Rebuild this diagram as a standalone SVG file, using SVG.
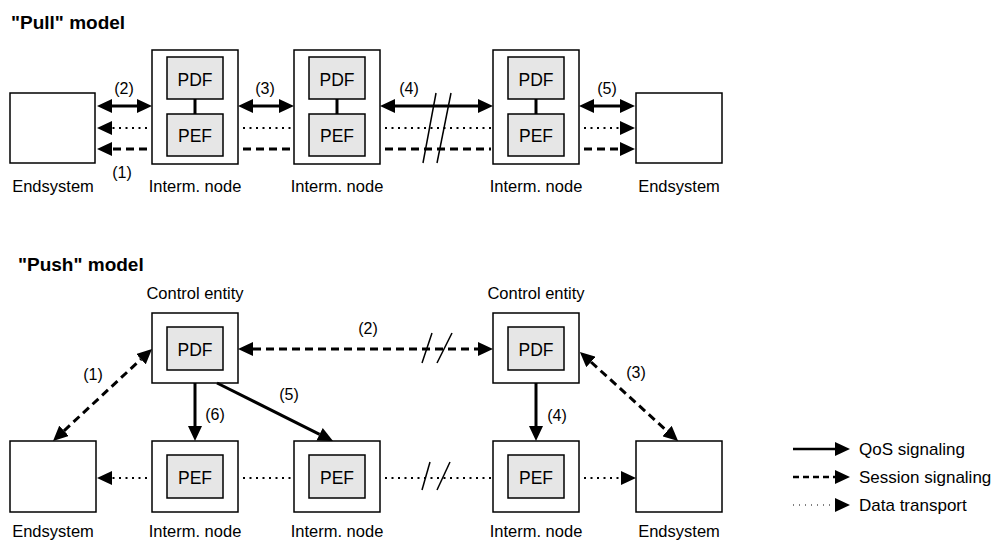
<svg xmlns="http://www.w3.org/2000/svg" width="997" height="543" viewBox="0 0 997 543">
  <style>
    text { font-family: "Liberation Sans", Arial, sans-serif; fill: #000; }
    .title { font-size: 19px; font-weight: bold; }
    .lbl { font-size: 16.5px; text-anchor: middle; }
    .num { font-size: 16px; text-anchor: middle; }
    .fn { font-size: 17.5px; text-anchor: middle; }
    .leg { font-size: 17px; }
    .box { fill: #fff; stroke: #000; stroke-width: 1.5; }
    .inner { fill: #e6e6e6; stroke: #000; stroke-width: 1.5; }
    .qos { fill: none; stroke: #000; stroke-width: 3; }
    .sess { fill: none; stroke: #000; stroke-width: 3; stroke-dasharray: 8 5; }
    .data { fill: none; stroke: #000; stroke-width: 2; stroke-dasharray: 2 4.5; }
    .brk { fill: none; stroke: #000; stroke-width: 1.5; }
    .link { stroke: #000; stroke-width: 3; }
  </style>
  <defs>
    <marker id="ah" markerUnits="userSpaceOnUse" viewBox="0 0 15 14" refX="0" refY="7" markerWidth="15" markerHeight="14" orient="auto-start-reverse">
      <path d="M0,0 L15,7 L0,14 z" fill="#000"/>
    </marker>
  </defs>

  <!-- ===== Pull model ===== -->
  <text class="title" x="11" y="29">"Pull" model</text>

  <g id="pull-end-left">
    <rect class="box" x="10" y="93" width="85" height="70"/>
    <text class="lbl" x="53" y="192">Endsystem</text>
  </g>
  <g id="pull-node-1">
    <rect class="box" x="152" y="50" width="86" height="114"/>
    <rect class="inner" x="167" y="57" width="56" height="42"/>
    <rect class="inner" x="167" y="114" width="56" height="42"/>
    <line class="link" x1="195" y1="99" x2="195" y2="114"/>
    <text class="fn" x="195" y="85.5">PDF</text>
    <text class="fn" x="195" y="142">PEF</text>
    <text class="lbl" x="195" y="192">Interm. node</text>
  </g>
  <g id="pull-node-2">
    <rect class="box" x="294" y="50" width="86" height="114"/>
    <rect class="inner" x="309" y="57" width="56" height="42"/>
    <rect class="inner" x="309" y="114" width="56" height="42"/>
    <line class="link" x1="337" y1="99" x2="337" y2="114"/>
    <text class="fn" x="337" y="85.5">PDF</text>
    <text class="fn" x="337" y="142">PEF</text>
    <text class="lbl" x="337" y="192">Interm. node</text>
  </g>
  <g id="pull-node-3">
    <rect class="box" x="493" y="50" width="86" height="114"/>
    <rect class="inner" x="508" y="57" width="56" height="42"/>
    <rect class="inner" x="508" y="114" width="56" height="42"/>
    <line class="link" x1="536" y1="99" x2="536" y2="114"/>
    <text class="fn" x="536" y="85.5">PDF</text>
    <text class="fn" x="536" y="142">PEF</text>
    <text class="lbl" x="536" y="192">Interm. node</text>
  </g>
  <g id="pull-end-right">
    <rect class="box" x="636" y="93" width="86" height="70"/>
    <text class="lbl" x="679" y="192">Endsystem</text>
  </g>

  <g id="pull-connectors">
    <!-- (2) -->
    <line class="qos" x1="112" y1="106" x2="137" y2="106" marker-start="url(#ah)" marker-end="url(#ah)"/>
    <line class="data" x1="147" y1="128" x2="112" y2="128" marker-end="url(#ah)"/>
    <line class="sess" x1="147" y1="149" x2="112" y2="149" marker-end="url(#ah)"/>
    <!-- (3) -->
    <line class="qos" x1="253" y1="106" x2="279" y2="106" marker-start="url(#ah)" marker-end="url(#ah)"/>
    <line class="data" x1="243" y1="128" x2="293" y2="128"/>
    <line class="sess" x1="243" y1="149" x2="293" y2="149"/>
    <!-- (4) -->
    <line class="qos" x1="395" y1="106" x2="478" y2="106" marker-start="url(#ah)" marker-end="url(#ah)"/>
    <line class="data" x1="385" y1="128" x2="491" y2="128"/>
    <line class="sess" x1="385" y1="149" x2="491" y2="149"/>
    <line class="brk" x1="436" y1="93" x2="423" y2="163"/>
    <line class="brk" x1="451" y1="93" x2="437" y2="163"/>
    <!-- (5) -->
    <line class="qos" x1="594" y1="106" x2="620" y2="106" marker-start="url(#ah)" marker-end="url(#ah)"/>
    <line class="data" x1="584" y1="128" x2="620" y2="128" marker-end="url(#ah)"/>
    <line class="sess" x1="584" y1="149" x2="620" y2="149" marker-end="url(#ah)"/>

    <text class="num" x="124" y="94">(2)</text>
    <text class="num" x="265" y="94">(3)</text>
    <text class="num" x="409" y="94">(4)</text>
    <text class="num" x="607" y="94">(5)</text>
    <text class="num" x="122" y="178">(1)</text>
  </g>

  <!-- ===== Push model ===== -->
  <text class="title" x="18" y="271">"Push" model</text>

  <g id="push-ctrl-1">
    <text class="lbl" x="195" y="299">Control entity</text>
    <rect class="box" x="152" y="313" width="86" height="70"/>
    <rect class="inner" x="167" y="327" width="56" height="43"/>
    <text class="fn" x="195" y="356">PDF</text>
  </g>
  <g id="push-ctrl-2">
    <text class="lbl" x="536" y="299">Control entity</text>
    <rect class="box" x="493" y="313" width="86" height="70"/>
    <rect class="inner" x="508" y="327" width="56" height="43"/>
    <text class="fn" x="536" y="356">PDF</text>
  </g>
  <g id="push-end-left">
    <rect class="box" x="10" y="441" width="86" height="71"/>
    <text class="lbl" x="53" y="537">Endsystem</text>
  </g>
  <g id="push-node-1">
    <rect class="box" x="152" y="441" width="86" height="71"/>
    <rect class="inner" x="167" y="455" width="56" height="43"/>
    <text class="fn" x="195" y="484">PEF</text>
    <text class="lbl" x="195" y="537">Interm. node</text>
  </g>
  <g id="push-node-2">
    <rect class="box" x="294" y="441" width="86" height="71"/>
    <rect class="inner" x="309" y="455" width="56" height="43"/>
    <text class="fn" x="337" y="484">PEF</text>
    <text class="lbl" x="337" y="537">Interm. node</text>
  </g>
  <g id="push-node-3">
    <rect class="box" x="493" y="441" width="86" height="71"/>
    <rect class="inner" x="508" y="455" width="56" height="43"/>
    <text class="fn" x="536" y="484">PEF</text>
    <text class="lbl" x="536" y="537">Interm. node</text>
  </g>
  <g id="push-end-right">
    <rect class="box" x="636" y="441" width="86" height="71"/>
    <text class="lbl" x="679" y="537">Endsystem</text>
  </g>

  <g id="push-connectors">
    <!-- (1) endsystem to control entity -->
    <line class="sess" x1="64" y1="430.8" x2="141" y2="359.2" marker-start="url(#ah)" marker-end="url(#ah)"/>
    <!-- (2) between control entities -->
    <line class="sess" x1="253" y1="349" x2="478" y2="349" marker-start="url(#ah)" marker-end="url(#ah)"/>
    <line class="brk" x1="432" y1="333" x2="422" y2="363"/>
    <line class="brk" x1="452" y1="333" x2="437" y2="363"/>
    <!-- (3) control entity to endsystem -->
    <line class="sess" x1="591" y1="362" x2="667" y2="431" marker-start="url(#ah)" marker-end="url(#ah)"/>
    <!-- (6), (5), (4) policy pushes -->
    <line class="qos" x1="195" y1="383" x2="195" y2="426" marker-end="url(#ah)"/>
    <line class="qos" x1="217" y1="383" x2="319.6" y2="434.3" marker-end="url(#ah)"/>
    <line class="qos" x1="536" y1="383" x2="536" y2="426" marker-end="url(#ah)"/>
    <!-- data path -->
    <line class="data" x1="147" y1="478" x2="112" y2="478" marker-end="url(#ah)"/>
    <line class="data" x1="243" y1="478" x2="293" y2="478"/>
    <line class="data" x1="385" y1="478" x2="491" y2="478"/>
    <line class="brk" x1="430" y1="462" x2="422" y2="490"/>
    <line class="brk" x1="450" y1="462" x2="437" y2="490"/>
    <line class="data" x1="584" y1="478" x2="621" y2="478" marker-end="url(#ah)"/>

    <text class="num" x="93" y="380">(1)</text>
    <text class="num" x="368" y="334">(2)</text>
    <text class="num" x="636" y="378">(3)</text>
    <text class="num" x="557" y="421">(4)</text>
    <text class="num" x="289" y="400">(5)</text>
    <text class="num" x="215" y="420">(6)</text>
  </g>

  <!-- ===== Legend ===== -->
  <g id="legend">
    <line class="qos" x1="793" y1="449" x2="835" y2="449" marker-end="url(#ah)" style="stroke-width:2.5"/>
    <text class="leg" x="859" y="455">QoS signaling</text>
    <line class="sess" x1="793" y1="477" x2="835" y2="477" marker-end="url(#ah)" style="stroke-width:2.5;stroke-dasharray:6 4"/>
    <text class="leg" x="859" y="483">Session signaling</text>
    <line x1="793" y1="505" x2="835" y2="505" marker-end="url(#ah)" style="stroke:#000;stroke-width:1;stroke-dasharray:1 5"/>
    <text class="leg" x="859" y="511">Data transport</text>
  </g>
</svg>
